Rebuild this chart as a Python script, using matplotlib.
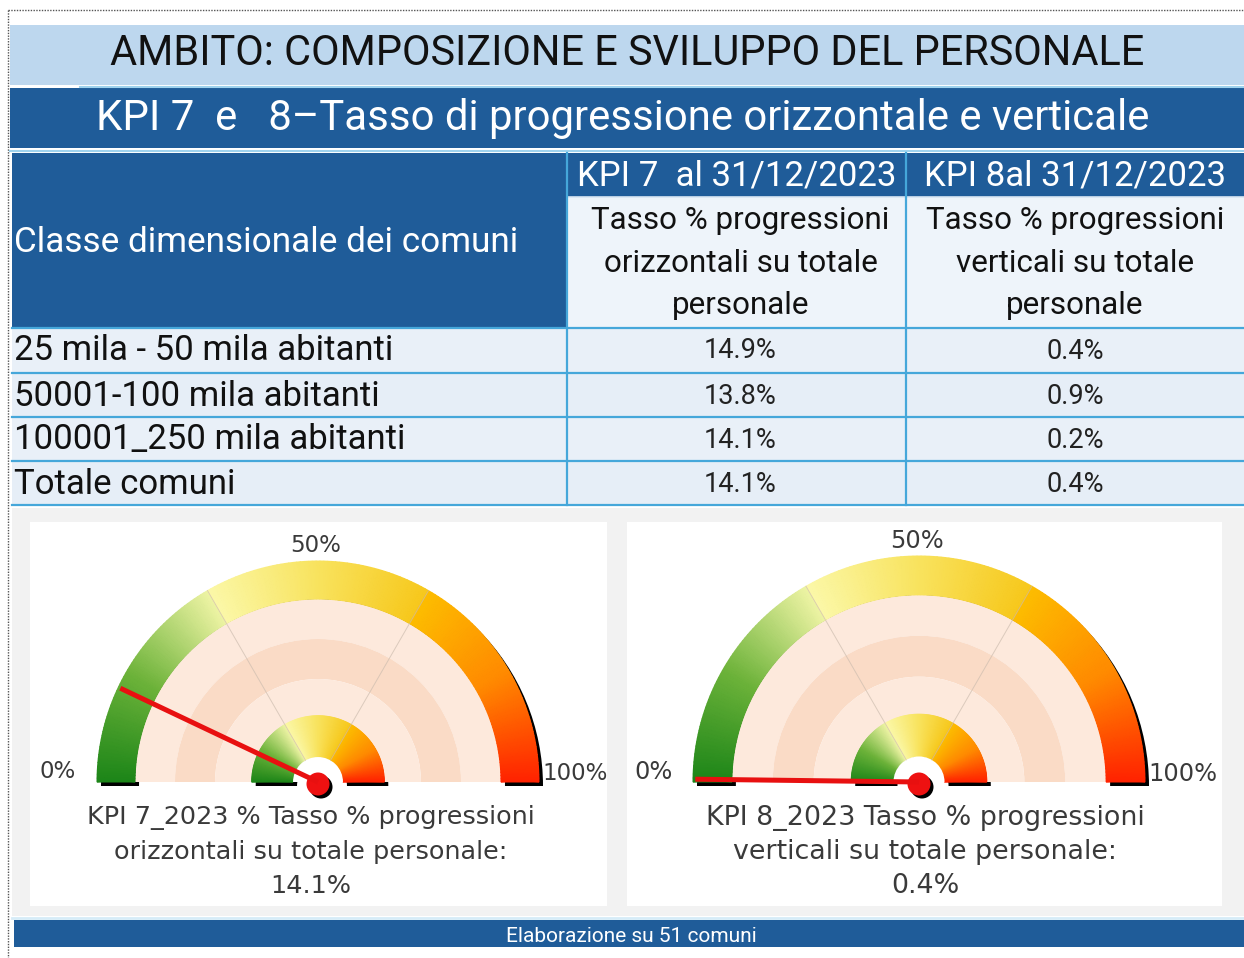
import numpy as np
import matplotlib
matplotlib.use("Agg")
import matplotlib.pyplot as plt
from matplotlib.patches import Rectangle, Wedge, Circle
from matplotlib.colors import LinearSegmentedColormap

# Data
categories = ["25 mila - 50 mila abitanti", "50001-100 mila abitanti",
              "100001_250 mila abitanti", "Totale comuni"]
kpi7 = [14.9, 13.8, 14.1, 14.1]
kpi8 = [0.4, 0.9, 0.2, 0.4]
col_titles = ["KPI 7  al 31/12/2023", "KPI 8al 31/12/2023"]
col_sub = [["Tasso % progressioni", "orizzontali su totale", "personale"],
           ["Tasso % progressioni", "verticali su totale", "personale"]]
gauge_captions = [["KPI 7_2023 % Tasso % progressioni", "orizzontali su totale personale:"],
                  ["KPI 8_2023 Tasso % progressioni", "verticali su totale personale:"]]
gauge_ticks = ["0%", "50%", "100%"]

# Colours
DARK = "#1f5c99"
LIGHT = "#bdd7ee"
ROW_BG = "#e6eef7"
SUB_BG = "#eef4fa"
LINE = "#45a7da"
NARROW = ["Roboto"]
GFONT = ["DejaVu Sans"]

fig = plt.figure(figsize=(12.44, 9.58), dpi=100)
ax = fig.add_axes([0, 0, 1, 1])
ax.set_xlim(0, 1244)
ax.set_ylim(958, 0)
ax.axis("off")
renderer = fig.canvas.get_renderer()


def fit_text(x, y, s, width, **kw):
    t = ax.text(x, y, s, fontsize=20, **kw)
    w = t.get_window_extent(renderer).width
    t.set_fontsize(20 * width / w)
    return t


# Outer dotted frame
ax.plot([8, 1244], [10, 10], color="#555555", lw=1, ls=(0, (1, 1)))
ax.plot([8, 8], [10, 958], color="#555555", lw=1, ls=(0, (1, 1)))

# Title bars
ax.add_patch(Rectangle((10, 25), 1234, 60, color=LIGHT, lw=0))
fit_text(627, 53, "AMBITO: COMPOSIZIONE E SVILUPPO DEL PERSONALE", 1037,
         ha="center", va="center", color="#111111", family=NARROW)
ax.plot([80, 1244], [86.5, 86.5], color="#9fd3ee", lw=1.5)
ax.add_patch(Rectangle((10, 88), 1234, 60, color=DARK, lw=0))
fit_text(623, 118, "KPI 7  e   8\u2013Tasso di progressione orizzontale e verticale", 1050,
         ha="center", va="center", color="white", family=NARROW)
ax.plot([10, 1244], [150.5, 150.5], color="#9fd3ee", lw=1.5)

# Table
x0, x1, x2, x3 = 12, 567, 906, 1244
row_y = [328, 373, 417, 461, 505]
ax.add_patch(Rectangle((x0, 153), x1 - x0, 175, color=DARK, lw=0))
ax.add_patch(Rectangle((x1, 153), x3 - x1, 44, color=DARK, lw=0))
ax.add_patch(Rectangle((x1, 197), x3 - x1, 131, color=SUB_BG, lw=0))
for i in range(len(categories)):
    ax.add_patch(Rectangle((x0, row_y[i]), x3 - x0, row_y[i + 1] - row_y[i],
                           color=ROW_BG if i % 2 else "#e9f0f8", lw=0))

fit_text(14, 242, "Classe dimensionale dei comuni", 504,
         ha="left", va="center", color="white", family=NARROW)
t7 = fit_text((x1 + x2) / 2, 176, col_titles[0], 319, ha="center", va="center",
              color="white", family=NARROW)
ax.text((x2 + x3) / 2, 176, col_titles[1], fontsize=t7.get_fontsize(),
        ha="center", va="center", color="white", family=NARROW)
ts = fit_text((x1 + x2) / 2 + 4, 220, col_sub[0][0], 298, ha="center", va="center",
              color="#111111", family=NARROW)
sub_fs = ts.get_fontsize()
for j, cx in enumerate([(x1 + x2) / 2 + 4, (x2 + x3) / 2]):
    for k, line in enumerate(col_sub[j]):
        if j == 0 and k == 0:
            continue
        ax.text(cx, 220 + 43 * k, line, fontsize=sub_fs, ha="center", va="center",
                color="#111111", family=NARROW)

tr = fit_text(14, 351, categories[0], 379, ha="left", va="center",
              color="#111111", family=NARROW)
row_fs = tr.get_fontsize()
tv = fit_text((x1 + x2) / 2 + 4, 351, f"{kpi7[0]:.1f}%", 73, ha="center", va="center",
              color="#222222", family=NARROW)
val_fs = tv.get_fontsize()
for i in range(len(categories)):
    yc = (row_y[i] + row_y[i + 1]) / 2 + 1
    if i > 0:
        ax.text(14, yc, categories[i], fontsize=row_fs, ha="left", va="center",
                color="#111111", family=NARROW)
        ax.text((x1 + x2) / 2 + 4, yc, f"{kpi7[i]:.1f}%", fontsize=val_fs,
                ha="center", va="center", color="#222222", family=NARROW)
    ax.text((x2 + x3) / 2, yc, f"{kpi8[i]:.1f}%", fontsize=val_fs,
            ha="center", va="center", color="#222222", family=NARROW)

# table grid lines
for y in row_y:
    ax.plot([x0, x3], [y, y], color=LINE, lw=1.6)
ax.plot([x1, x3], [197, 197], color="#d8e6f3", lw=1.2)
for x in [x1, x2]:
    ax.plot([x, x], [153, 505], color=LINE, lw=1.6)

# Gauge panel
ax.add_patch(Rectangle((12, 508), 1232, 408, color="#f2f2f2", lw=0))
ax.add_patch(Rectangle((30, 522), 577, 384, color="white", lw=0))
ax.add_patch(Rectangle((627, 522), 595, 384, color="white", lw=0))

seg_cmaps = [
    LinearSegmentedColormap.from_list("g", ["#1c8518", "#6db33a", "#eef4a4"]),
    LinearSegmentedColormap.from_list("y", ["#fbf8a8", "#f8e35e", "#f7c81c"]),
    LinearSegmentedColormap.from_list("r", ["#fdbd00", "#ff8a00", "#ff2200"]),
]


def color_ring(cx, cy, r_out, width):
    r = np.array([r_out - width, r_out])
    for s in range(3):
        v = np.linspace(s / 3, (s + 1) / 3, 60)
        th = np.radians(180 + 180 * v)
        X = cx + np.outer(r, np.cos(th))
        Y = cy + np.outer(r, np.sin(th))
        C = np.tile(np.linspace(0, 1, len(v)), (2, 1))
        ax.pcolormesh(X, Y, C, cmap=seg_cmaps[s], vmin=0, vmax=1,
                      shading="gouraud", rasterized=False)


def gauge(cx, cy, R, value, caption):
    r_ring = R * 0.828
    r_mid1 = R * 0.647
    r_mid2 = R * 0.466
    r_in = R * 0.30
    r_hub = R * 0.113
    # shadows
    ax.add_patch(Wedge((cx + 4, cy + 4), R, 180, 360, width=R - r_ring, color="black", lw=0))
    ax.add_patch(Wedge((cx + 4, cy + 4), r_in, 180, 360, width=r_in - r_hub, color="black", lw=0))
    # peach bands
    ax.add_patch(Wedge((cx, cy), r_ring, 180, 360, width=r_ring - r_mid1, color="#fde9dc", lw=0))
    ax.add_patch(Wedge((cx, cy), r_mid1, 180, 360, width=r_mid1 - r_mid2, color="#fadbc6", lw=0))
    ax.add_patch(Wedge((cx, cy), r_mid2, 180, 360, width=r_mid2 - r_in, color="#fde9dc", lw=0))
    color_ring(cx, cy, R, R - r_ring)
    color_ring(cx, cy, r_in, r_in - r_hub)
    ax.add_patch(Wedge((cx, cy), r_hub, 180, 360, color="white", lw=0))
    # segment separators
    for v in [1 / 3, 2 / 3]:
        th = np.radians(180 + 180 * v)
        ax.plot([cx + r_hub * np.cos(th), cx + R * np.cos(th)],
                [cy + r_hub * np.sin(th), cy + R * np.sin(th)],
                color="#cdbdaf", lw=0.7, alpha=0.7)
    # needle
    th = np.radians(180 + 180 * value / 100)
    L = R * 0.99
    ax.plot([cx, cx + L * np.cos(th)], [cy, cy + L * np.sin(th)],
            color="#e81010", lw=3.6, solid_capstyle="butt")
    ax.add_patch(Circle((cx + 3, cy + 5), 11.5, color="black", lw=0))
    ax.add_patch(Circle((cx, cy + 2), 11.5, color="#ee1111", lw=0))
    # caption
    lines = caption + [f"{value:.1f}%"]
    xc = cx + (-7 if value > 1 else 6)
    t = fit_text(xc, cy + 36, lines[0], 447 if value > 1 else 437,
                 ha="center", va="center", color="#3a3a3a", family=GFONT)
    fs = t.get_fontsize()
    for k, line in enumerate(lines[1:], start=1):
        ax.text(xc, cy + 36 + 34 * k, line, fontsize=fs,
                ha="center", va="center", color="#3a3a3a", family=GFONT)
    # tick labels
    tfs = fs * 0.9
    ax.text(cx - R - 39, cy - 10, gauge_ticks[0], fontsize=tfs, ha="center",
            va="center", color="#3a3a3a", family=GFONT)
    ax.text(cx - 2, cy - R - 15, gauge_ticks[1], fontsize=tfs, ha="center",
            va="center", color="#3a3a3a", family=GFONT)
    ax.text(cx + R + 3, cy - 8, gauge_ticks[2], fontsize=tfs, ha="left",
            va="center", color="#3a3a3a", family=GFONT)


gauge(318, 782, 221, kpi7[-1], gauge_captions[0])
gauge(919, 782, 226, kpi8[-1], gauge_captions[1])

# Footer
ax.plot([12, 1244], [918, 918], color="#d6ecf8", lw=2)
ax.add_patch(Rectangle((14, 920), 1230, 27, color=DARK, lw=0))
fit_text(631, 936, "Elaborazione su 51 comuni", 250, ha="center", va="center",
         color="white", family=NARROW)

fig.savefig("out.png", dpi=100)
